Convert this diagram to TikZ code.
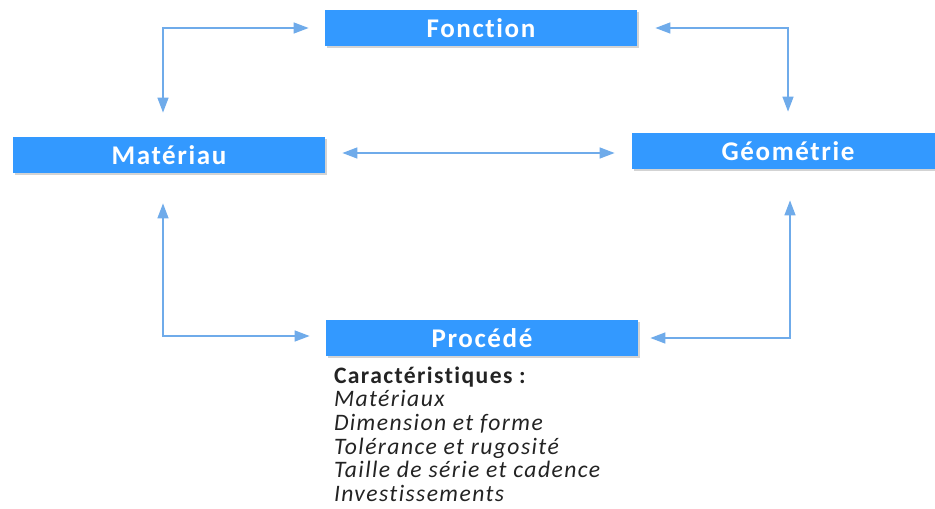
\documentclass[tikz,border=0pt]{standalone}
\usepackage{fontspec}
\setmainfont{Carlito}[LetterSpace=6,Ligatures=NoCommon]
\usetikzlibrary{arrows.meta,shadows,positioning}

\definecolor{boxblue}{RGB}{51,153,255}
\definecolor{arrowblue}{RGB}{111,171,234}
\definecolor{textgray}{RGB}{35,35,35}

\begin{document}
\begin{tikzpicture}[x=0.5pt,y=-0.5pt,
        boite/.style={rectangle,fill=boxblue,text=white,inner sep=0pt,
            minimum width=156pt,minimum height=18pt,
            font=\fontsize{13.5}{15}\selectfont\bfseries,
            drop shadow={shadow xshift=1pt,shadow yshift=-1pt,opacity=0.35}},
        fleche/.style={{Triangle[length=7.5pt,width=5.5pt]}-{Triangle[length=7.5pt,width=5.5pt]},
            draw=arrowblue,line width=0.75pt},
        liste/.style={anchor=north west,align=left,inner sep=0pt,text=textgray,
            font=\fontsize{11.8}{11.8}\selectfont}]
        \clip (0,0) rectangle (935,508);

        \node[boite] (fonction) at (481,28)
            {Fonction};

        \node[boite] (materiau) at (169,155)
            {Matériau};

        \node[boite] (geometrie) at (788,151)
            {Géométrie};

        \node[boite] (procede) at (482,338)
            {Procédé};

        \node[liste] (carac) at ([xshift=4pt,yshift=-5pt]procede.south west)
            {\textbf{Caractéristiques :}\\
             \textit{Matériaux}\\
             \textit{Dimension et forme}\\
             \textit{Tolérance et rugosité}\\
             \textit{Taille de série et cadence}\\
             \textit{Investissements}};

        \draw[fleche] ([xshift=-8pt]fonction.west) -| ([xshift=-3pt,yshift=12pt]materiau.north);
        \draw[fleche] ([xshift=9pt]fonction.east) -| ([yshift=10.5pt]geometrie.north);
        \draw[fleche] ([xshift=8.5pt,yshift=1pt]materiau.east) -- ([xshift=-8.5pt,yshift=1pt]materiau.east -| geometrie.west);
        \draw[fleche] ([xshift=-3pt,yshift=-15pt]materiau.south) |- ([xshift=-8pt,yshift=1pt]procede.west);
        \draw[fleche] ([xshift=1pt,yshift=-15.5pt]geometrie.south) |- ([xshift=6pt]procede.east);
    \end{tikzpicture}
\end{document}
